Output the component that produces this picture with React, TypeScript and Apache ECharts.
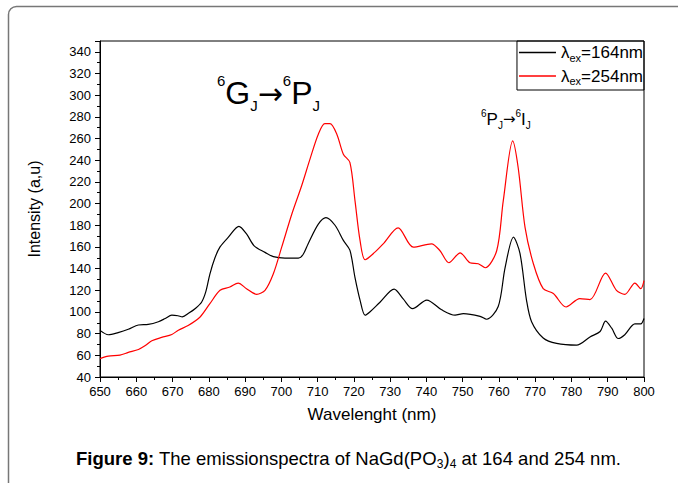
import React, { useEffect, useRef } from "react";
import * as echarts from "echarts";

// Wavelength (nm) / intensity (a.u.)
const black164X = [650, 652.3, 655, 657.8, 660.6, 663.3, 666.1, 668, 669.8, 671.5, 672.7, 674.5, 676.2, 678, 679.2, 680.3, 681.7, 683.1, 685.4, 688.3, 690.4, 692.5, 695.5, 697.8, 701, 704.7, 706, 707.4, 710.2, 712.3, 714.8, 717.1, 718.9, 720.3, 721.7, 723.1, 724.4, 727.2, 731.1, 733.6, 736.2, 740.1, 744.2, 747.9, 750.2, 754.8, 756.6, 759.8, 761.7, 764, 765.8, 767.6, 769, 772.2, 775.9, 781.4, 785.1, 787.9, 789.4, 791.1, 792.9, 794.7, 797.5, 799.1, 800];
const black164Y = [83, 79, 81, 84, 88, 88.5, 91, 94, 97, 96.5, 95.5, 99, 103, 109, 119, 135, 150, 160, 169, 179, 172, 161, 155, 151, 149.7, 149.7, 153, 163, 181, 187, 180, 166, 157, 132, 111, 97, 100, 109, 121, 112, 103, 111, 102, 97, 98.5, 96, 93.3, 105, 141, 169, 154, 111, 91, 76, 71, 69.4, 77, 82, 91.5, 85, 75.5, 79, 89, 89, 94];

const red254X = [650, 652.3, 655.5, 657.8, 660.6, 662.5, 664.3, 667, 669.8, 671.6, 674.3, 677.6, 680.3, 683.1, 685.8, 688.1, 690.4, 693.2, 695.5, 697.8, 700.1, 702.9, 705.6, 707.9, 710.2, 712, 713.4, 715.3, 717.1, 718.9, 720.3, 721.7, 723.1, 725.8, 728.1, 732.2, 736.4, 741.4, 743.7, 746.2, 749.3, 752, 754.3, 756.2, 759.4, 761.2, 763.8, 765.3, 767.2, 769.5, 772.2, 775, 778.5, 782.3, 785.1, 789.4, 792.4, 794.7, 797.5, 799.1, 800];
const red254Y = [57, 59.3, 60.2, 62.7, 65.4, 69, 73.4, 76.5, 79.2, 83.2, 87.5, 95.4, 107.7, 120, 123, 126.7, 121.5, 116.3, 120, 135.3, 159.8, 190.4, 216.5, 241, 264, 273.7, 273.7, 264, 245.5, 238, 203, 166, 148.2, 155.2, 162.9, 177.6, 159.8, 162.9, 156.7, 145.4, 154.6, 145.4, 144.5, 140.8, 156.7, 202.7, 257.8, 233.3, 178, 144.5, 121.5, 117, 104.6, 112.3, 111.4, 135.9, 120, 116.3, 126.7, 121.5, 129];

const seriesNames = ["λex=164nm", "λex=254nm"];
const legendRich = ["{l|λ}{s|ex}{l|=164nm}", "{l|λ}{s|ex}{l|=254nm}"];
const seriesColors = ["#000000", "#ff0000"];

const xMin = 650, xMax = 800, xStep = 10;
const yMin = 40, yMax = 350, yStep = 20;

const FONT = "'Liberation Sans', Arial, sans-serif";
const ARROW_FONT = "'DejaVu Sans', sans-serif";

function pairs(xs: number[], ys: number[]) {
  return xs.map((x, i) => [x, ys[i]]);
}

export default function App() {
  const ref = useRef<HTMLDivElement>(null);
  useEffect(() => {
    document.body.style.margin = "0";
    const chart = echarts.init(ref.current!, undefined, { renderer: "svg" });
    const option: any = {
      animation: false,
      backgroundColor: "#ffffff",
      textStyle: { fontFamily: FONT },
      grid: { left: 100, right: 34, top: 41, bottom: 106, show: true, borderColor: "#000", borderWidth: 1, backgroundColor: "transparent" },
      legend: {
        orient: "vertical",
        right: 34,
        top: 41,
        borderColor: "#000",
        borderWidth: 1,
        padding: [3, 1, 3, 2],
        itemGap: 4,
        itemWidth: 37,
        itemHeight: 1.3,
        icon: "rect",
        data: seriesNames,
        formatter: (name: string) => legendRich[seriesNames.indexOf(name)],
        textStyle: {
          fontFamily: FONT,
          color: "#000",
          rich: {
            l: { fontSize: 17, fontFamily: FONT, color: "#000", lineHeight: 22 },
            s: { fontSize: 11, fontFamily: FONT, color: "#000", lineHeight: 11, verticalAlign: "bottom" },
          },
        },
      },
      xAxis: {
        type: "value",
        min: xMin,
        max: xMax,
        interval: xStep,
        name: "Wavelenght (nm)",
        nameLocation: "middle",
        nameGap: 29,
        nameTextStyle: { fontSize: 17, color: "#000", fontFamily: FONT },
        axisLine: { lineStyle: { color: "#000", width: 1 } },
        axisTick: { show: true, inside: false, length: 5, lineStyle: { color: "#000" } },
        minorTick: { show: true, splitNumber: 2, length: 3, lineStyle: { color: "#000" } },
        splitLine: { show: false },
        axisLabel: { fontSize: 13, color: "#000", margin: 8, fontFamily: FONT },
      },
      yAxis: {
        type: "value",
        min: yMin,
        max: yMax,
        interval: yStep,
        name: "Intensity (a,u)",
        nameLocation: "middle",
        nameGap: 58,
        nameTextStyle: { fontSize: 16, color: "#000", fontFamily: FONT },
        axisLine: { show: true, lineStyle: { color: "#000", width: 1 } },
        axisTick: { show: true, inside: false, length: 5, lineStyle: { color: "#000" } },
        minorTick: { show: true, splitNumber: 2, length: 3, lineStyle: { color: "#000" } },
        splitLine: { show: false },
        axisLabel: { fontSize: 13, color: "#000", margin: 9, showMaxLabel: false, fontFamily: FONT },
      },
      series: [
        {
          name: seriesNames[0],
          type: "line",
          data: pairs(black164X, black164Y),
          smooth: 0.3,
          symbol: "none",
          lineStyle: { color: seriesColors[0], width: 1.2 },
          itemStyle: { color: seriesColors[0] },
        },
        {
          name: seriesNames[1],
          type: "line",
          data: pairs(red254X, red254Y),
          smooth: 0.3,
          symbol: "none",
          lineStyle: { color: seriesColors[1], width: 1.2 },
          itemStyle: { color: seriesColors[1] },
        },
      ],
      graphic: [
        {
          type: "rect",
          z: -10,
          shape: { x: 8.5, y: 6.5, width: 720, height: 520, r: 8 },
          style: { fill: "none", stroke: "#777", lineWidth: 1.5 },
        },
        {
          type: "text",
          x: 217,
          y: 73,
          style: {
            text: "{p|6}{m|G}{b|J}{a|→}{p|6}{m|P}{b|J}",
            verticalAlign: "top",
            rich: {
              m: { fontSize: 32, fontFamily: FONT, fill: "#000", lineHeight: 40 },
              a: { fontSize: 30, fontFamily: ARROW_FONT, fill: "#000", lineHeight: 40 },
              p: { fontSize: 15, fontFamily: FONT, fill: "#000", lineHeight: 15, verticalAlign: "top" },
              b: { fontSize: 15, fontFamily: FONT, fill: "#000", lineHeight: 15, verticalAlign: "bottom" },
            },
          },
        },
        {
          type: "text",
          x: 481,
          y: 108,
          style: {
            text: "{p|6}{m|P}{b|J}{a|→}{p|6}{m|I}{b|J}",
            verticalAlign: "top",
            rich: {
              m: { fontSize: 17, fontFamily: FONT, fill: "#000", lineHeight: 22 },
              a: { fontSize: 15, fontFamily: ARROW_FONT, fill: "#000", lineHeight: 22 },
              p: { fontSize: 10, fontFamily: FONT, fill: "#000", lineHeight: 10, verticalAlign: "top" },
              b: { fontSize: 10, fontFamily: FONT, fill: "#000", lineHeight: 10, verticalAlign: "bottom" },
            },
          },
        },
        {
          type: "text",
          x: 76,
          y: 458,
          style: {
            text: "{f|Figure 9:}{n| The emissionspectra of NaGd(PO}{s|3}{n|)}{s|4}{n| at 164 and 254 nm.}",
            verticalAlign: "middle",
            rich: {
              f: { fontSize: 18.5, fontWeight: "bold", fontFamily: FONT, fill: "#000", lineHeight: 24 },
              n: { fontSize: 18.5, fontFamily: FONT, fill: "#000", lineHeight: 24 },
              s: { fontSize: 12, fontFamily: FONT, fill: "#000", lineHeight: 12, verticalAlign: "bottom" },
            },
          },
        },
      ],
    };
    chart.setOption(option);
    return () => chart.dispose();
  }, []);
  return <div ref={ref} style={{ width: 678, height: 483 }} />;
}
